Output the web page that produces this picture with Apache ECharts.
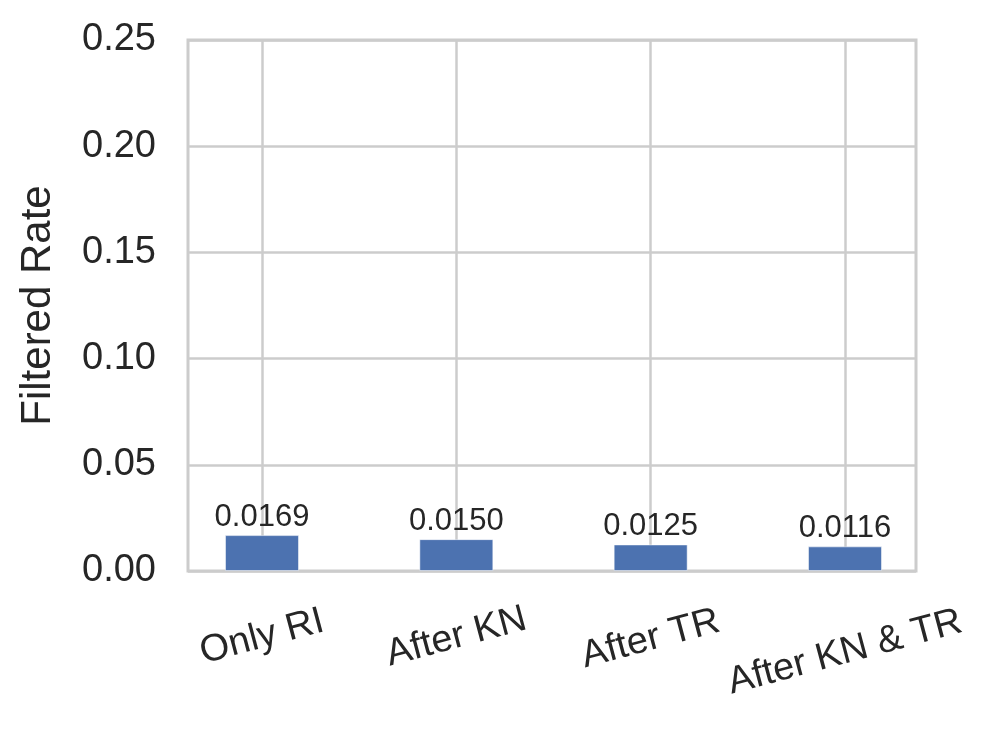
<!DOCTYPE html>
<html>
<head>
<meta charset="utf-8">
<script src="https://cdn.jsdelivr.net/npm/echarts@6/dist/echarts.min.js"></script>
<style>
  html, body { margin: 0; padding: 0; background: #fff; }
  #chart { width: 995px; height: 730px; }
</style>
</head>
<body>
<div id="chart"></div>
<script>
// 数据
const categories = ["Only RI", "After KN", "After TR", "After KN & TR"];
const filteredRate = [0.0169, 0.0150, 0.0125, 0.0116];
const yTicks = [0, 0.05, 0.1, 0.15, 0.2, 0.25];

// 旋转标签的上沿对齐（长标签往下挪一点）
const labelPadding = [[0, 0, 0, 0], [0, 0, 0, 0], [4, 1, 0, 0], [30, 8, 0, 0]];

const chartDom = document.getElementById("chart");
const myChart = echarts.init(chartDom, null, { renderer: "canvas" });

const textColor = "#262626";
const gridColor = "#cccccc";
const fontFamily = "Liberation Sans, Arial, sans-serif";

const labelRich = {};
labelPadding.forEach((p, i) => {
  labelRich["p" + i] = { padding: p, fontSize: 38, fontFamily: fontFamily, color: textColor };
});

const option = {
  backgroundColor: "#ffffff",
  animation: false,
  grid: [
    // 外框 + 横向网格线
    { left: 188, right: 79, top: 40, bottom: 159, show: true, borderColor: gridColor, borderWidth: 3, backgroundColor: "transparent" },
    // 柱子，对准各类别
    { left: 262, right: 150, top: 40, bottom: 159 },
  ],
  xAxis: [
    { gridIndex: 0, type: "value", min: 0, max: 1, show: false },
    {
      gridIndex: 1,
      type: "category",
      data: categories,
      boundaryGap: false,
      axisLine: { show: false },
      axisTick: { show: false },
      splitLine: { show: true, lineStyle: { color: gridColor, width: 2.5 } },
      axisLabel: {
        rotate: 15,
        align: "center",
        verticalAlign: "middle",
        margin: 66,
        interval: 0,
        color: textColor,
        fontSize: 38,
        fontFamily: fontFamily,
        formatter: (v) => "{p" + categories.indexOf(v) + "|" + v + "}",
        rich: labelRich,
      },
    },
  ],
  yAxis: [
    {
      gridIndex: 0,
      type: "value",
      min: yTicks[0],
      max: yTicks[yTicks.length - 1],
      interval: 0.05,
      name: "Filtered Rate",
      nameLocation: "middle",
      nameGap: 129,
      nameTextStyle: { color: textColor, fontSize: 42, fontFamily: fontFamily },
      axisLine: { show: false },
      axisTick: { show: false },
      splitLine: { show: true, lineStyle: { color: gridColor, width: 2.5 } },
      axisLabel: {
        margin: 32,
        color: textColor,
        fontSize: 38,
        fontFamily: fontFamily,
        formatter: (v) => v.toFixed(2),
      },
    },
    {
      gridIndex: 1,
      type: "value",
      min: yTicks[0],
      max: yTicks[yTicks.length - 1],
      show: false,
      splitLine: { show: false },
    },
  ],
  series: [
    {
      type: "bar",
      xAxisIndex: 1,
      yAxisIndex: 1,
      data: filteredRate,
      barWidth: 74,
      itemStyle: { color: "#4c72b0", borderColor: "rgba(255,255,255,0.5)", borderWidth: 1 },
      label: {
        show: true,
        position: "top",
        distance: 2,
        color: textColor,
        fontSize: 31,
        fontFamily: fontFamily,
        formatter: (p) => p.value.toFixed(4),
      },
      z: 3,
    },
  ],
};

option && myChart.setOption(option);
</script>
</body>
</html>
